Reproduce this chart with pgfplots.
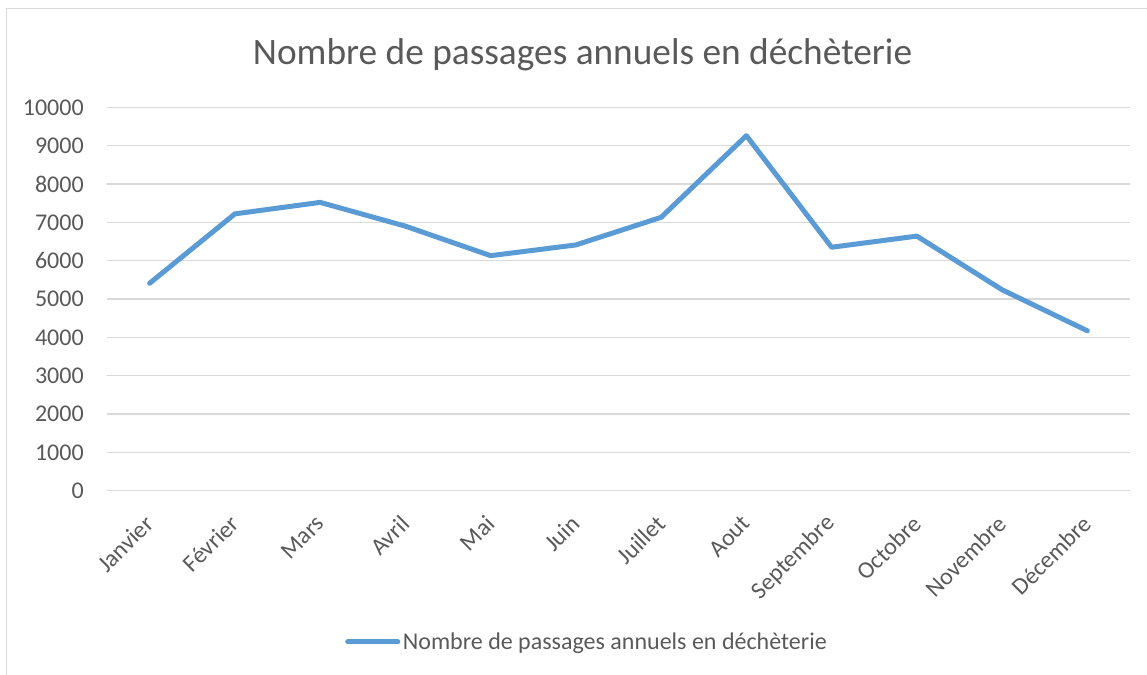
\documentclass[border=0pt]{standalone}
\usepackage{pgfplots}
\pgfplotsset{compat=1.18}
\usepackage{fontspec}
\setmainfont{Carlito}
\definecolor{gridc}{HTML}{D9D9D9}
\definecolor{txt}{HTML}{595959}
\definecolor{linec}{HTML}{5B9BD5}
\begin{document}
\begin{tikzpicture}
\begin{scope}[x=0.75pt,y=0.75pt]
\useasboundingbox (0,0) rectangle (1147,675);
\draw[gridc, line width=1.2pt] (6.5,0) -- (6.5,666.3) -- (1147,666.3);
\node[anchor=base, text=txt, inner sep=0pt, font=\fontsize{28pt}{32pt}\selectfont] at (582.5,610) {Nombre de passages annuels en déchèterie};
\end{scope}
\begin{axis}[
  at={(80.25pt,138.225pt)}, anchor=south west,
  width=767.25pt, height=287.55pt, scale only axis,
  xmin=-0.5, xmax=11.5, ymin=0, ymax=10000,
  axis line style={draw=none},
  major tick length=0pt,
  ymajorgrids, grid style={gridc, line width=0.9pt},
  xtick={0,...,11},
  xticklabels={Janvier,Février,Mars,Avril,Mai,Juin,Juillet,Aout,Septembre,Octobre,Novembre,Décembre},
  ytick={0,1000,...,10000},
  scaled y ticks=false,
  /pgf/number format/assume math mode=true,
  yticklabel style={/pgf/number format/fixed, /pgf/number format/1000 sep={}, anchor=east, inner sep=0pt, xshift=-17.25pt},
  xticklabel style={anchor=east, inner sep=0pt, yshift=-21.75pt, xshift=0pt, rotate=45},
  tick label style={text=txt, font=\fontsize{18pt}{21pt}\selectfont},
  legend style={at={(0.2326,-0.3946)}, anchor=west, draw=none, fill=none, inner sep=0pt, text=txt, font=\fontsize{18pt}{21pt}\selectfont},
  legend image code/.code={\draw[#1] (1.875pt,0pt) -- (39.4pt,0pt);},
]
\addplot[linec, line width=3.75pt, line join=round, line cap=round] coordinates {
(0,5410) (1,7220) (2,7520) (3,6900) (4,6130) (5,6410) (6,7130) (7,9260) (8,6350) (9,6640) (10,5240) (11,4170)
};
\addlegendentry{Nombre de passages annuels en déchèterie}
\end{axis}
\end{tikzpicture}
\end{document}
